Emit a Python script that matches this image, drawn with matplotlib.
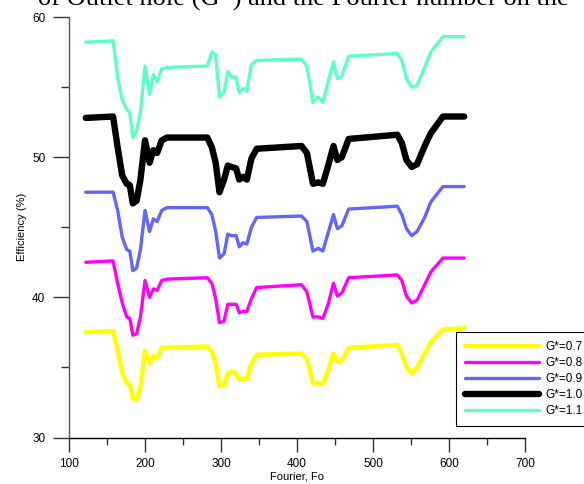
import matplotlib
matplotlib.use("Agg")
import matplotlib.pyplot as plt
from matplotlib.ticker import MultipleLocator

fourier = [122, 158, 164, 170, 176, 180, 184, 189, 194, 200, 206, 211, 216, 222, 229,
           282, 288, 293, 298, 304, 309, 314, 320, 324, 329, 334, 340, 347, 406, 413,
           421, 428, 434, 441, 448, 453, 459, 468, 532, 538, 544, 551, 558, 568, 576,
           592, 620]

eff_g07 = [37.5, 37.6, 36.2, 34.6, 33.9, 33.8, 32.8, 32.7, 33.6, 36.2, 35.3, 35.8, 35.7, 36.4, 36.4,
           36.5, 36.1, 35.3, 33.7, 33.7, 34.6, 34.7, 34.6, 34.1, 34.2, 34.2, 35.3, 35.9, 36.0, 35.6,
           33.9, 33.9, 33.8, 34.8, 36.0, 35.4, 35.5, 36.4, 36.6, 36.0, 35.0, 34.6, 35.0, 36.0, 36.8,
           37.7, 37.8]
eff_g08 = [42.5, 42.6, 41.0, 39.6, 38.6, 38.5, 37.3, 37.4, 38.6, 41.2, 40.0, 40.6, 40.5, 41.2, 41.3,
           41.4, 41.0, 39.9, 38.2, 38.3, 39.5, 39.5, 39.5, 38.9, 39.0, 39.0, 39.9, 40.7, 40.9, 40.4,
           38.6, 38.6, 38.5, 39.5, 41.0, 40.1, 40.3, 41.4, 41.6, 41.2, 40.1, 39.6, 39.8, 40.9, 41.8,
           42.8, 42.8]
eff_g09 = [47.5, 47.5, 46.2, 44.3, 43.4, 43.3, 41.9, 42.1, 43.4, 46.2, 44.7, 45.6, 45.4, 46.2, 46.4,
           46.4, 45.9, 44.7, 42.8, 43.1, 44.5, 44.4, 44.4, 43.6, 43.9, 43.8, 45.0, 45.7, 45.8, 45.4,
           43.3, 43.5, 43.3, 44.6, 45.9, 44.9, 45.1, 46.3, 46.5, 45.9, 44.9, 44.4, 44.7, 45.7, 46.8,
           47.9, 47.9]
eff_g10 = [52.8, 52.9, 50.7, 48.7, 48.1, 48.0, 46.7, 46.9, 48.4, 51.2, 49.6, 50.5, 50.3, 51.2, 51.4,
           51.4, 50.7, 49.6, 47.5, 48.4, 49.4, 49.3, 49.2, 48.4, 48.6, 48.4, 49.9, 50.6, 50.8, 50.3,
           48.1, 48.2, 48.1, 49.4, 50.8, 49.8, 50.0, 51.3, 51.6, 51.0, 49.8, 49.3, 49.5, 50.8, 51.7,
           52.9, 52.9]
eff_g11 = [58.2, 58.3, 55.7, 54.1, 53.4, 53.2, 51.4, 51.9, 53.2, 56.5, 54.5, 55.9, 55.4, 56.3, 56.4,
           56.5, 57.5, 57.3, 54.3, 54.6, 56.1, 55.7, 55.7, 54.6, 54.9, 54.7, 56.6, 56.9, 57.0, 56.5,
           53.9, 54.3, 53.9, 55.4, 56.8, 55.6, 55.8, 57.2, 57.4, 56.9, 55.6, 55.0, 55.1, 56.4, 57.5,
           58.6, 58.6]

labels = ["G*=0.7", "G*=0.8", "G*=0.9", "G*=1.0", "G*=1.1"]
series = [eff_g07, eff_g08, eff_g09, eff_g10, eff_g11]
colors = ["#FFFF00", "#FF00FF", "#6464FF", "#000000", "#5CFFC8"]
widths = [3.2, 2.4, 2.4, 4.6, 2.4]

plt.rcParams['font.family'] = ['Liberation Sans', 'DejaVu Sans']

fig = plt.figure(figsize=(5.84, 4.84), dpi=100)
ax = fig.add_axes([69/584, 1 - 437.5/484, 456/584, 420.5/484])

for y, c, w, lab in zip(series, colors, widths, labels):
    ax.plot(fourier, y, color=c, lw=w, label=lab, solid_joinstyle='round',
            solid_capstyle='round')

ax.set_xlim(100, 700)
ax.set_ylim(30, 60)
ax.xaxis.set_major_locator(MultipleLocator(100))
ax.xaxis.set_minor_locator(MultipleLocator(50))
ax.yaxis.set_major_locator(MultipleLocator(10))
ax.yaxis.set_minor_locator(MultipleLocator(5))
for s in ['top', 'right']:
    ax.spines[s].set_visible(False)
ax.spines['left'].set_color('#555555')
ax.spines['bottom'].set_color('black')
ax.spines['left'].set_linewidth(1.0)
ax.spines['bottom'].set_linewidth(1.0)
ax.tick_params(axis='y', which='major', direction='out', length=11.5, width=1.0,
               color='#333333', labelsize=8.5, pad=5.5)
ax.tick_params(axis='y', which='minor', direction='out', length=6, width=1.0, color='#333333')
ax.tick_params(axis='x', which='major', direction='out', length=10, width=1.0,
               color='#333333', labelsize=8.5, pad=5)
ax.tick_params(axis='x', which='minor', direction='out', length=5, width=1.0, color='#333333')
ax.set_xlabel("Fourier, Fo", fontsize=8, labelpad=1)
ax.set_ylabel("Efficiency (%)", fontsize=8, labelpad=4)

leg = ax.legend(loc='upper left', bbox_to_anchor=(456/584, 1 - 332/484),
                bbox_transform=fig.transFigure, fontsize=8.5, handlelength=6.3,
                handletextpad=0.5, labelspacing=0.35, borderpad=0.75, borderaxespad=0,
                fancybox=False, frameon=True, framealpha=1)
leg.get_frame().set_edgecolor('black')
leg.get_frame().set_linewidth(0.8)

fig.text(0.52, 1 - 6/484, "of Outlet hole (G*) and the Fourier number on the",
         ha='center', va='baseline', fontsize=19, family=['Liberation Serif', 'DejaVu Serif'])

fig.savefig("out.png", dpi=100)
